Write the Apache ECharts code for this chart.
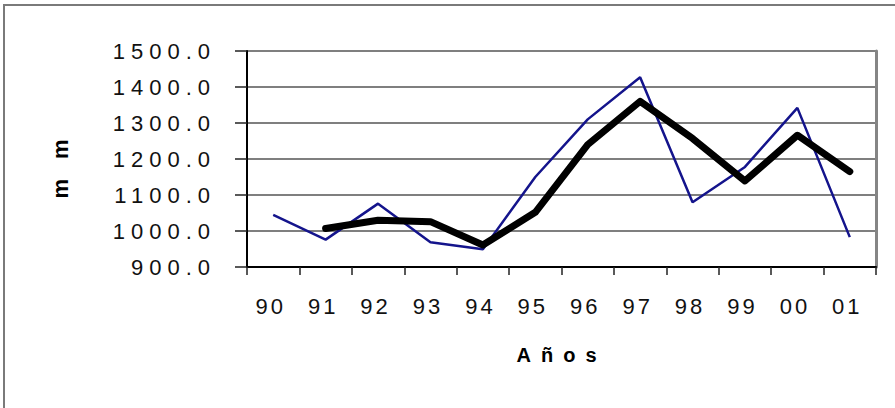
<!DOCTYPE html>
<html><head><meta charset="utf-8">
<script src="https://cdn.jsdelivr.net/npm/echarts@6/dist/echarts.min.js"></script>
<style>html,body{margin:0;padding:0;background:#fff}#c{width:895px;height:408px}</style>
</head><body><div id="c"></div>
<script>
const categories = ['90','91','92','93','94','95','96','97','98','99','00','01'];
const annualRain = [1045, 976, 1076, 969, 949, 1150, 1310, 1427, 1080, 1178, 1342, 983];
const movingAverage = [null, 1007, 1030, 1026, 961, 1052, 1240, 1360, 1257, 1139, 1266, 1165];
const yMin = 900, yMax = 1500, yStep = 100;
const xTitle = 'Años', yTitle = 'mm';

const font = "'Liberation Sans', Arial, sans-serif";
const chart = echarts.init(document.getElementById('c'), null, {renderer:'svg', width:895, height:408});
chart.setOption({
  animation:false,
  backgroundColor:'#fff',
  grid:{left:247,right:19,top:51,bottom:141,show:false},
  graphic:[{type:'rect',silent:true,shape:{x:4,y:5,width:900,height:410},style:{fill:'none',stroke:'#7a7a7a',lineWidth:2}}],
  xAxis:{
    type:'category', data:categories, boundaryGap:true,
    axisLine:{lineStyle:{color:'#000',width:2}},
    axisTick:{show:true,length:8,lineStyle:{color:'#222',width:1.5}},
    axisLabel:{color:'#111',fontFamily:font,fontSize:22,margin:28,padding:[0,5,0,0]},
    name:xTitle, nameLocation:'middle', nameGap:78,
    nameTextStyle:{fontFamily:font,fontSize:20,fontWeight:'bold',color:'#000'}
  },
  yAxis:[{
    type:'value', min:yMin, max:yMax, interval:yStep,
    axisLine:{show:true,lineStyle:{color:'#000',width:2}},
    axisTick:{show:true,length:12,lineStyle:{color:'#222',width:1.5}},
    axisLabel:{color:'#111',fontFamily:font,fontSize:22,margin:31,padding:[0,0,10,0],formatter:v=>v.toFixed(1)},
    splitLine:{show:true,lineStyle:{color:'#7f7f7f',width:2}},
    name:yTitle, nameLocation:'middle', nameGap:176,
    nameTextStyle:{fontFamily:font,fontSize:22,fontWeight:'bold',color:'#000'}
  },{
    type:'value', position:'right', min:yMin, max:yMax, interval:yStep,
    axisLine:{show:true,lineStyle:{color:'#858585',width:3}},
    axisTick:{show:false}, axisLabel:{show:false}, splitLine:{show:false}
  }],
  series:[
    {type:'line', data:annualRain, showSymbol:false, lineStyle:{color:'#14148c',width:2.5}, z:3},
    {type:'line', data:movingAverage, showSymbol:false, connectNulls:false, lineStyle:{color:'#000',width:7,join:'round',cap:'round'}, z:4}
  ]
});
function space(){
  document.querySelectorAll('#c text').forEach(t=>{
    const s=t.textContent.trim();
    if (/^\d+\.0$/.test(s)) t.style.letterSpacing='6px';
    else if (/^\d\d$/.test(s)) t.style.letterSpacing='3px';
    else if (s===xTitle) t.style.letterSpacing='10px';
    else if (s===yTitle) t.style.letterSpacing='20px';
  });
}
space();
chart.on('finished', space);
</script></body></html>
